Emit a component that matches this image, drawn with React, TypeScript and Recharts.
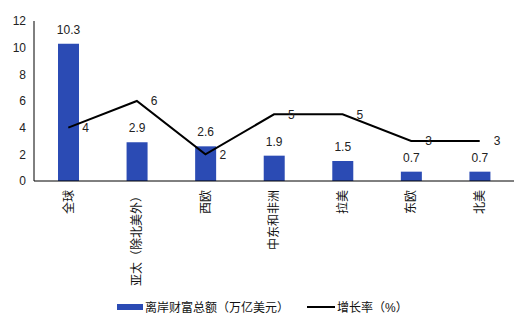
import React from 'react';
import { ComposedChart, Bar, Line, XAxis, YAxis, LabelList, Legend } from 'recharts';

const categories = ['全球', '亚太（除北美外）', '西欧', '中东和非洲', '拉美', '东欧', '北美'];
const wealth = [10.3, 2.9, 2.6, 1.9, 1.5, 0.7, 0.7];
const growth = [4, 6, 2, 5, 5, 3, 3];
const yTicks = [0, 2, 4, 6, 8, 10, 12];

const data = categories.map((name, i) => ({ name, wealth: wealth[i], growth: growth[i] }));

const FONT = '"Liberation Sans", "Noto Sans CJK SC", sans-serif';
const BLUE = '#2B4BB4';

const VerticalTick = (props: any) => {
  const { x, y, payload } = props;
  return (
    <text
      x={x}
      y={y + 1}
      transform={`rotate(-90, ${x}, ${y + 1})`}
      textAnchor="end"
      dy="0.36em"
      fontSize={12}
      fill="#111"
      fontFamily={FONT}
    >
      {payload.value}
    </text>
  );
};

const LegendContent = () => (
  <div style={{ display: 'flex', alignItems: 'center', fontFamily: FONT, fontSize: 12, color: '#111' }}>
    <div style={{ width: 26, height: 6, background: BLUE, marginLeft: 117 }} />
    <span style={{ marginLeft: 2 }}>离岸财富总额（万亿美元）</span>
    <div style={{ width: 28, height: 2, background: '#000', marginLeft: 18 }} />
    <span style={{ marginLeft: 2 }}>增长率（%）</span>
  </div>
);

export default function App() {
  return (
    <div style={{ position: 'absolute', left: 0, top: 0, background: '#fff' }}>
      <ComposedChart
        width={530}
        height={327}
        data={data}
        margin={{ top: 21, right: 16, bottom: 106, left: 0 }}
      >
        <XAxis
          dataKey="name"
          height={40}
          interval={0}
          tickLine={false}
          axisLine={{ stroke: '#000', strokeWidth: 1 }}
          tick={<VerticalTick />}
        />
        <YAxis
          width={34}
          domain={[0, 12]}
          ticks={yTicks}
          tickLine={false}
          axisLine={{ stroke: '#000', strokeWidth: 1 }}
          tick={{ fontSize: 12, fill: '#222', fontFamily: FONT }}
        />
        <Legend
          layout="horizontal"
          verticalAlign="middle"
          align="center"
          content={<LegendContent />}
          wrapperStyle={{ position: 'absolute', top: 298, left: 0, width: 530 }}
        />
        <Bar dataKey="wealth" fill={BLUE} barSize={21} isAnimationActive={false}>
          <LabelList dataKey="wealth" position="top" offset={10} fontSize={12} fill="#222" fontFamily={FONT} />
        </Bar>
        <Line
          dataKey="growth"
          stroke="#000"
          strokeWidth={2}
          dot={false}
          type="linear"
          isAnimationActive={false}
        >
          <LabelList dataKey="growth" position="right" offset={14} fontSize={12} fill="#222" fontFamily={FONT} />
        </Line>
      </ComposedChart>
    </div>
  );
}
